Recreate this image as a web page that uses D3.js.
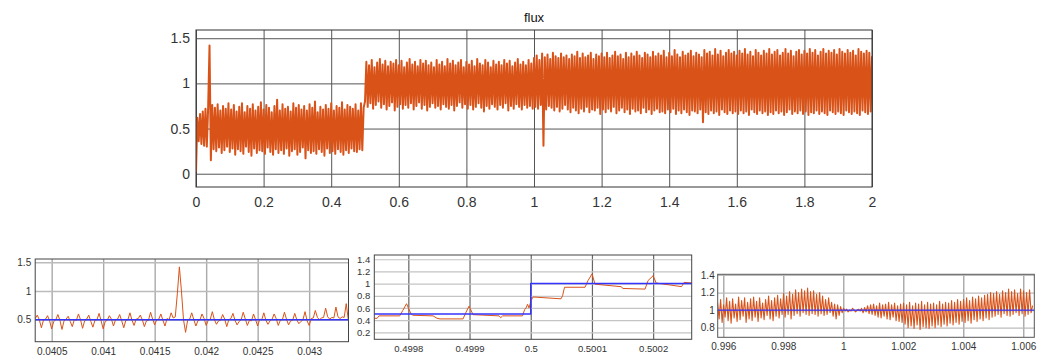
<!DOCTYPE html>
<html>
<head>
<meta charset="utf-8">
<script src="https://cdn.jsdelivr.net/npm/d3@7"></script>
<style>
  body { margin: 0; background: #fff; }
  svg { display: block; font-family: "Liberation Sans", Arial, Helvetica, sans-serif; }
</style>
</head>
<body>
<div id="chart"></div>
<script>
// flux, sampled every 4 ms from t = 0 to t = 2
const fluxStart = 0;
const fluxStep = 0.004;
const fluxValues = [
  0.02,0.62,0.36,0.66,0.33,0.69,0.31,0.72,0.30,0.74,1.42,0.15,0.76,0.27,0.73,0.25,0.77,0.29,0.70,0.23,0.75,0.26,0.72,0.30,0.78,
  0.24,0.71,0.28,0.76,0.21,0.69,0.27,0.74,0.25,0.78,0.22,0.68,0.30,0.75,0.24,0.72,0.20,0.77,0.28,0.70,0.23,0.74,0.26,0.79,0.25,
  0.71,0.22,0.76,0.29,0.73,0.24,0.68,0.21,0.75,0.27,0.82,0.23,0.70,0.26,0.77,0.22,0.72,0.28,0.74,0.20,0.69,0.25,0.78,0.27,0.73,
  0.21,0.76,0.24,0.71,0.29,0.75,0.17,0.70,0.26,0.77,0.23,0.73,0.25,0.80,0.22,0.68,0.27,0.74,0.24,0.71,0.20,0.76,0.28,0.72,0.23,
  0.78,0.25,0.70,0.22,0.75,0.27,0.73,0.24,0.79,0.21,0.71,0.26,0.76,0.23,0.74,0.28,0.72,0.25,0.77,0.24,0.70,0.27,0.78,0.26,0.73,
  0.80,1.24,0.74,1.20,0.78,1.26,0.72,1.18,0.76,1.23,0.80,1.27,0.73,1.21,0.77,1.25,0.71,1.19,0.75,1.24,0.79,1.22,0.70,1.26,0.74,
  1.20,0.77,1.25,0.72,1.18,0.76,1.23,0.73,1.27,0.78,1.21,0.71,1.24,0.75,1.19,0.79,1.26,0.72,1.22,0.76,1.25,0.70,1.20,0.74,1.23,
  0.78,1.18,0.73,1.26,0.75,1.21,0.71,1.24,0.77,1.19,0.74,1.27,0.72,1.22,0.76,1.25,0.70,1.20,0.75,1.23,0.79,1.26,0.73,1.18,0.77,
  1.24,0.72,1.21,0.76,1.25,0.71,1.19,0.74,1.27,0.78,1.22,0.73,1.20,0.69,1.26,0.75,1.23,0.72,1.18,0.77,1.25,0.74,1.21,0.71,1.24,
  0.76,1.20,0.73,1.26,0.78,1.22,0.70,1.25,0.75,1.19,0.72,1.23,0.77,1.27,0.74,1.21,0.71,1.24,0.76,1.20,0.73,1.26,0.75,1.22,0.72,
  1.28,0.74,1.31,0.72,1.26,0.76,1.33,0.31,1.29,0.71,1.32,0.75,1.27,0.73,1.34,0.70,1.30,0.74,1.28,0.69,1.33,0.72,1.29,0.76,1.31,
  0.71,1.27,0.68,1.32,0.73,1.30,0.70,1.35,0.67,1.28,0.72,1.33,0.69,1.29,0.74,1.31,0.68,1.34,0.71,1.27,0.70,1.32,0.73,1.30,0.66,
  1.33,0.71,1.29,0.68,1.34,0.72,1.28,0.69,1.31,0.74,1.35,0.67,1.30,0.70,1.32,0.73,1.27,0.68,1.34,0.71,1.29,0.66,1.33,0.72,1.30,
  0.69,1.35,0.70,1.31,0.67,1.28,0.73,1.34,0.68,1.32,0.71,1.29,0.66,1.35,0.70,1.30,0.72,1.33,0.68,1.31,0.69,1.36,0.67,1.29,0.71,
  1.34,0.68,1.30,0.72,1.37,0.66,1.32,0.70,1.29,0.67,1.35,0.71,1.31,0.68,1.33,0.65,1.36,0.70,1.30,0.69,1.34,0.67,1.32,0.71,1.29,
  0.57,1.37,0.68,1.33,0.66,1.35,0.70,1.31,0.67,1.38,0.69,1.32,0.65,1.36,0.71,1.30,0.68,1.34,0.66,1.37,0.70,1.33,0.67,1.35,0.69,
  1.31,0.66,1.36,0.70,1.33,0.67,1.38,0.69,1.32,0.65,1.35,0.71,1.30,0.68,1.37,0.66,1.34,0.70,1.31,0.67,1.36,0.69,1.33,0.65,1.38,
  0.68,1.32,0.66,1.35,0.70,1.37,0.67,1.31,0.69,1.34,0.65,1.38,0.68,1.33,0.71,1.36,0.66,1.30,0.69,1.35,0.67,1.37,0.70,1.32,0.66,
  1.36,0.69,1.33,0.65,1.38,0.68,1.34,0.67,1.37,0.70,1.31,0.66,1.35,0.69,1.38,0.67,1.33,0.65,1.36,0.70,1.34,0.68,1.37,0.66,1.32,
  0.69,1.38,0.67,1.35,0.65,1.33,0.70,1.37,0.68,1.34,0.66,1.36,0.69,1.31,0.67,1.38,0.65,1.35,0.70,1.33,0.68,1.36,0.66,1.34,0.69,
  1.30
];

// zoom 1: around the spike near t = 0.0417, one sample every 20 us
const zoom1Start = 0.04034;
const zoom1Step = 0.00002;
const zoom1Values = [
  0.52,0.58,0.50,0.36,0.49, 0.51,0.57,0.48,0.34,0.47, 0.50,0.59,0.49,0.33,0.48, 0.51,0.56,0.47,0.38,0.50,
  0.49,0.60,0.50,0.35,0.48, 0.51,0.58,0.47,0.37,0.49, 0.50,0.61,0.48,0.34,0.47, 0.49,0.57,0.51,0.39,0.50,
  0.51,0.59,0.48,0.36,0.49, 0.50,0.62,0.49,0.40,0.51, 0.52,0.58,0.50,0.38,0.48, 0.49,0.63,0.51,0.41,0.50,
  0.51,0.60,0.49,0.39,0.52, 0.50,0.62,0.53,0.55,0.95, 1.42,1.00,0.50,0.28,0.49, 0.51,0.62,0.50,0.39,0.48,
  0.50,0.60,0.52,0.40,0.49, 0.51,0.64,0.50,0.42,0.48, 0.49,0.59,0.51,0.38,0.50, 0.52,0.61,0.49,0.41,0.47,
  0.50,0.63,0.51,0.40,0.49, 0.48,0.60,0.50,0.39,0.51, 0.50,0.62,0.49,0.42,0.48, 0.51,0.60,0.52,0.40,0.49,
  0.50,0.63,0.51,0.41,0.48, 0.49,0.61,0.50,0.43,0.47, 0.50,0.64,0.48,0.40,0.52, 0.53,0.66,0.54,0.50,0.53,
  0.54,0.70,0.55,0.51,0.54, 0.53,0.72,0.55,0.52,0.55, 0.54,0.78,0.50
];

// zoom 2: the step at t = 0.5
const zoom2Time = [
  0.4997444,0.499749,0.499752,0.499786,0.499791,0.4997971,0.4998044,0.4998077,0.4998404,0.4998469,
  0.4998518,0.4998894,0.4998943,0.4998992,0.4999057,0.4999482,0.499951,0.499954,0.4999866,0.4999899,
  0.4999923,0.4999948,0.4999972,0.5000005,0.5000038,0.5000495,0.500052,0.5000552,0.5000887,0.5000936,
  0.5001002,0.5001051,0.5001475,0.5001508,0.5001868,0.5001917,0.5002,0.5002049,0.5002464,0.5002505,0.5002631
];
const zoom2Values = [
  0.43,0.43,0.47,0.47,0.56,0.67,0.50,0.48,0.47,0.43,
  0.42,0.42,0.53,0.63,0.49,0.47,0.44,0.47,0.47,0.57,
  0.60,0.66,0.60,0.72,0.78,0.75,0.80,0.94,0.94,1.05,
  1.16,0.99,0.95,0.92,0.91,1.05,1.13,1.01,0.95,1.02,1.01
];

// zoom 3: around t = 1, one sample every 50 us
const zoom3Start = 0.99581;
const zoom3Step = 0.00005;
const zoom3Values = [
  1.08,0.90,1.12,0.86,1.06,0.92,1.14,0.88,1.10,0.85,1.13,0.91,1.07,0.87,1.15,0.89,1.11,0.93,1.14,0.86,1.09,0.90,
  1.13,0.88,1.15,0.92,1.10,0.87,1.14,0.91,1.08,0.89,1.12,0.94,1.16,0.90,1.11,0.88,1.14,0.93,1.17,0.91,1.13,0.95,
  1.19,0.92,1.16,0.95,1.21,0.90,1.18,0.94,1.23,0.96,1.20,0.93,1.24,0.97,1.22,0.95,1.25,0.94,1.21,0.96,
  1.22,0.95,1.18,0.93,1.20,0.96,1.16,0.94,1.12,0.95,1.14,0.97,1.09,0.93,1.07,0.90,1.06,0.94,1.04,0.97,
  1.02,0.99,1.01,0.98,1.00,0.99,1.02,1.00,0.98,1.00,1.01,0.99,1.02,0.97,1.03,0.98,1.05,0.96,1.06,0.95,
  1.07,0.94,1.05,0.92,1.08,0.91,1.06,0.93,1.07,0.90,1.09,0.89,1.06,0.92,1.08,0.88,1.05,0.87,1.07,0.86,
  1.08,0.84,1.06,0.80,1.09,0.82,1.05,0.79,1.08,0.83,1.07,0.78,1.10,0.81,1.06,0.80,1.09,0.79,1.07,0.82,
  1.08,0.80,1.06,0.83,1.10,0.81,1.07,0.84,1.09,0.82,1.08,0.85,1.11,0.83,1.09,0.86,1.12,0.84,1.10,0.87,
  1.12,0.86,1.14,0.88,1.11,0.85,1.15,0.89,1.13,0.87,1.16,0.90,1.14,0.88,1.17,0.91,1.18,0.89,1.20,0.92,
  1.19,0.93,1.21,0.95,1.18,0.92,1.22,0.96,1.20,0.94,1.24,0.93,1.21,0.95,1.23,0.97,1.19,0.94,1.24,0.96,
  1.22,0.93,1.20,0.95,1.23,0.97,1.05
];

// reference level (blue)
const refTime = [0, 0.5, 0.5, 2];
const refValues = [0.5, 0.5, 1, 1];

// ticks
const mainXTicks = [0, 0.2, 0.4, 0.6, 0.8, 1, 1.2, 1.4, 1.6, 1.8, 2];
const mainXLabels = ["0", "0.2", "0.4", "0.6", "0.8", "1", "1.2", "1.4", "1.6", "1.8", "2"];
const mainYTicks = [0, 0.5, 1, 1.5];
const mainYLabels = ["0", "0.5", "1", "1.5"];

const zoom1XTicks = [0.0405, 0.041, 0.0415, 0.042, 0.0425, 0.043];
const zoom1XLabels = ["0.0405", "0.041", "0.0415", "0.042", "0.0425", "0.043"];
const zoom1YTicks = [0.5, 1, 1.5];
const zoom1YLabels = ["0.5", "1", "1.5"];

const zoom2XTicks = [0.4998, 0.4999, 0.5, 0.5001, 0.5002];
const zoom2XLabels = ["0.4998", "0.4999", "0.5", "0.5001", "0.5002"];
const zoom2YTicks = [0.2, 0.4, 0.6, 0.8, 1, 1.2, 1.4];
const zoom2YLabels = ["0.2", "0.4", "0.6", "0.8", "1", "1.2", "1.4"];

const zoom3XTicks = [0.996, 0.998, 1, 1.002, 1.004, 1.006];
const zoom3XLabels = ["0.996", "0.998", "1", "1.002", "1.004", "1.006"];
const zoom3YTicks = [0.8, 1, 1.2, 1.4];
const zoom3YLabels = ["0.8", "1", "1.2", "1.4"];

const ORANGE = "#d95319";
const BLUE = "#3434ff";

const svg = d3.select("#chart").append("svg")
  .attr("width", 1053)
  .attr("height", 358);

const sampled = (start, step, values) => values.map((v, i) => [start + i * step, v]);
const paired = (times, values) => times.map((t, i) => [t, values[i]]);

let clipCount = 0;

function drawPanel(o) {
  const g = svg.append("g");
  const x = d3.scaleLinear().domain(o.xDomain).range([o.left, o.right]);
  const y = d3.scaleLinear().domain(o.yDomain).range([o.bottom, o.top]);
  const h = o.bottom - o.top, w = o.right - o.left;

  const clipId = "clip" + (clipCount++);
  svg.append("clipPath").attr("id", clipId)
    .append("rect")
    .attr("x", o.left).attr("y", o.top)
    .attr("width", w).attr("height", h);

  // grid
  g.append("g")
    .attr("transform", "translate(0," + o.bottom + ")")
    .call(d3.axisBottom(x).tickValues(o.xTicks).tickSize(-h).tickFormat(""))
    .call(s => s.select(".domain").remove())
    .call(s => s.selectAll("line").attr("stroke", o.xGrid).attr("stroke-width", o.gridWidth));
  g.append("g")
    .attr("transform", "translate(" + o.left + ",0)")
    .call(d3.axisLeft(y).tickValues(o.yTicks).tickSize(-w).tickFormat(""))
    .call(s => s.select(".domain").remove())
    .call(s => s.selectAll("line").attr("stroke", o.yGrid).attr("stroke-width", o.gridWidth));

  // lines
  const line = d3.line().x(d => x(d[0])).y(d => y(d[1]));
  o.series.forEach(s => {
    g.append("path")
      .datum(s.points)
      .attr("clip-path", "url(#" + clipId + ")")
      .attr("fill", "none")
      .attr("stroke", s.color)
      .attr("stroke-width", s.width)
      .attr("stroke-linejoin", "round")
      .attr("d", line);
  });

  // box
  g.append("rect")
    .attr("x", o.left).attr("y", o.top)
    .attr("width", w).attr("height", h)
    .attr("fill", "none")
    .attr("stroke", o.frame)
    .attr("stroke-width", 1);

  // tick labels
  g.append("g")
    .attr("transform", "translate(0," + o.bottom + ")")
    .call(d3.axisBottom(x).tickValues(o.xTicks).tickFormat((d, i) => o.xLabels[i]).tickSize(0).tickPadding(o.xPad))
    .call(s => s.select(".domain").remove())
    .attr("font-family", null)
    .attr("font-size", o.fontSize)
    .call(s => s.selectAll("text").attr("fill", "#333"));
  g.append("g")
    .attr("transform", "translate(" + o.left + ",0)")
    .call(d3.axisLeft(y).tickValues(o.yTicks).tickFormat((d, i) => o.yLabels[i]).tickSize(0).tickPadding(o.yPad))
    .call(s => s.select(".domain").remove())
    .attr("font-family", null)
    .attr("font-size", o.fontSize)
    .call(s => s.selectAll("text").attr("fill", "#333"));

  if (o.title) {
    g.append("text")
      .attr("x", (o.left + o.right) / 2)
      .attr("y", o.top - 8)
      .attr("text-anchor", "middle")
      .attr("font-size", 13)
      .attr("fill", "#111")
      .text(o.title);
  }
}

// main plot
drawPanel({
  left: 196, right: 872, top: 30, bottom: 187,
  xDomain: [0, 2], yDomain: [-0.147, 1.591],
  xTicks: mainXTicks, xLabels: mainXLabels,
  yTicks: mainYTicks, yLabels: mainYLabels,
  xGrid: "#555", yGrid: "#555", gridWidth: 1, frame: "#333",
  fontSize: 14, xPad: 10, yPad: 6,
  title: "flux",
  series: [
    { points: sampled(fluxStart, fluxStep, fluxValues), color: ORANGE, width: 2 }
  ]
});

// zoom 1
drawPanel({
  left: 35.2, right: 348.5, top: 259, bottom: 341.7,
  xDomain: [0.04034, 0.043382], yDomain: [0.117, 1.557],
  xTicks: zoom1XTicks, xLabels: zoom1XLabels,
  yTicks: zoom1YTicks, yLabels: zoom1YLabels,
  xGrid: "#aaa", yGrid: "#bbb", gridWidth: 1.4, frame: "#444",
  fontSize: 10, xPad: 6, yPad: 4,
  series: [
    { points: sampled(zoom1Start, zoom1Step, zoom1Values), color: ORANGE, width: 1 },
    { points: paired(refTime, refValues), color: BLUE, width: 1.6 }
  ]
});

// zoom 2
drawPanel({
  left: 374.3, right: 691.7, top: 255, bottom: 339.3,
  xDomain: [0.4997444, 0.500263], yDomain: [0.085, 1.47],
  xTicks: zoom2XTicks, xLabels: zoom2XLabels,
  yTicks: zoom2YTicks, yLabels: zoom2YLabels,
  xGrid: "#666", yGrid: "#c4c4c4", gridWidth: 1.2, frame: "#444",
  fontSize: 9.5, xPad: 6, yPad: 4,
  series: [
    { points: paired(zoom2Time, zoom2Values), color: ORANGE, width: 1 },
    { points: paired(refTime, refValues), color: BLUE, width: 1.5 }
  ]
});

// zoom 3
drawPanel({
  left: 717.7, right: 1034.3, top: 274.3, bottom: 337.3,
  xDomain: [0.995813, 1.006367], yDomain: [0.69, 1.408],
  xTicks: zoom3XTicks, xLabels: zoom3XLabels,
  yTicks: zoom3YTicks, yLabels: zoom3YLabels,
  xGrid: "#999", yGrid: "#bbb", gridWidth: 1.2, frame: "#555",
  fontSize: 10, xPad: 5.5, yPad: 3,
  series: [
    { points: sampled(zoom3Start, zoom3Step, zoom3Values), color: ORANGE, width: 1.1 },
    { points: paired(refTime, refValues), color: BLUE, width: 1.3 }
  ]
});
</script>
</body>
</html>
